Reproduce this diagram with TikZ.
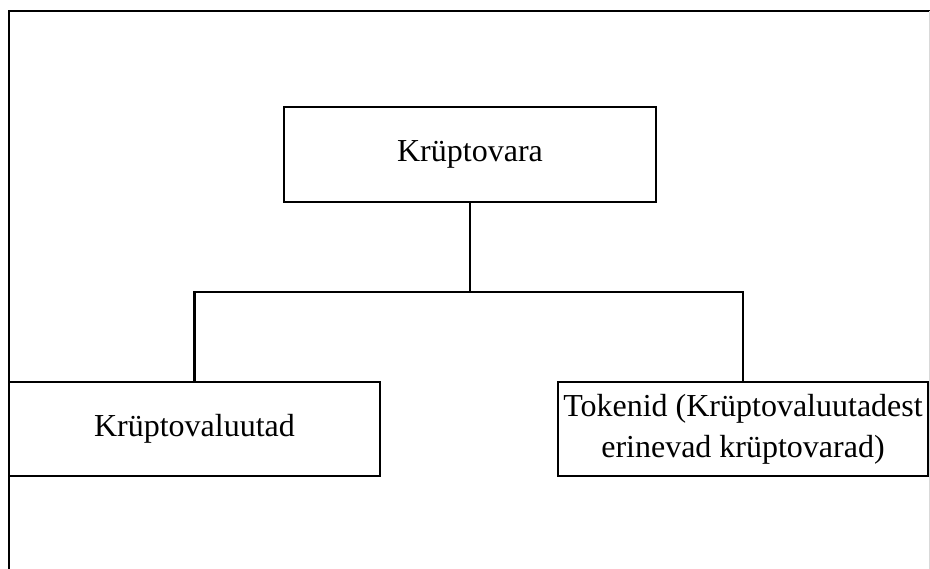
\documentclass[tikz,border=0pt]{standalone}
\usepackage{fontspec}
\setmainfont{Liberation Serif}
\begin{document}
\begin{tikzpicture}[x=1pt,y=-1pt,
  box/.style={draw, line width=2.2pt, inner sep=0pt, align=center,
    font=\fontsize{32}{41}\selectfont},
  conn/.style={line width=2.2pt}]
\useasboundingbox (0,0) rectangle (930,569);
\draw[line width=2.2pt] (9,569) -- (9,11) -- (930,11);
\draw[line width=1pt, black!15] (929,11) -- (929,569);
\node[box, minimum width=372pt, minimum height=95pt] (top) at (470,154.5) {Krüptovara};
\node[box, minimum width=371pt, minimum height=94pt] (left) at (194.5,429) {Krüptovaluutad};
\node[box, minimum width=370pt, minimum height=94pt] (right) at (743,429) {Tokenid (Krüptovaluutadest\\erinevad krüptovarad)};
\coordinate (hub) at (470,292);
\draw[conn] (top.south) -- (hub);
\draw[conn] (left.north) |- (hub) -| (right.north);
\end{tikzpicture}
\end{document}
